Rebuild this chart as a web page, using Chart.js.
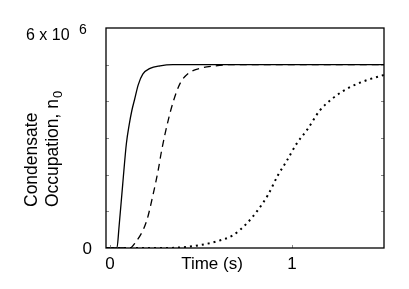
<!DOCTYPE html>
<html>
<head>
<meta charset="utf-8">
<script src="https://cdn.jsdelivr.net/npm/chart.js@4/dist/chart.umd.min.js"></script>
<style>
html,body{margin:0;padding:0;background:#fff;}
#wrap{width:409px;height:289px;position:relative;}
</style>
</head>
<body>
<div id="wrap"><canvas id="c" width="409" height="289"></canvas></div>
<script>
// Data
const solidTime  = [-0.022, 0.038, 0.05, 0.07, 0.09, 0.105, 0.12, 0.135, 0.155, 0.18, 0.22, 0.275, 0.346, 1.505];
const solidValue = [0, 0, 0.6e6, 1.75e6, 2.85e6, 3.35e6, 3.75e6, 4.05e6, 4.45e6, 4.74e6, 4.90e6, 4.97e6, 5.0e6, 5.0e6];

const dashTime  = [-0.022, 0.11, 0.137, 0.2, 0.238, 0.265, 0.284, 0.32, 0.348, 0.385, 0.43, 0.495, 0.567, 0.66, 1.505];
const dashValue = [0, 0, 0.13e6, 0.72e6, 1.49e6, 2.13e6, 2.67e6, 3.49e6, 4.0e6, 4.49e6, 4.76e6, 4.9e6, 4.96e6, 5.0e6, 5.0e6];

const dotTime  = [-0.022, 0.3, 0.4, 0.495, 0.593, 0.676, 0.753, 0.813, 0.868, 0.923, 0.97, 1.027, 1.082, 1.154, 1.225, 1.319, 1.412, 1.505];
const dotValue = [0, 0, 0.02e6, 0.08e6, 0.19e6, 0.35e6, 0.68e6, 1.04e6, 1.45e6, 1.99e6, 2.37e6, 2.86e6, 3.22e6, 3.76e6, 4.09e6, 4.39e6, 4.58e6, 4.72e6];

const xTickValues = [0, 1];
const xTickLabels = ['0', '1'];
const yMinorTicks = [1e6, 2e6, 3e6, 4e6, 5e6];
const xLabel = 'Time (s)';
const yLabelLine1 = 'Condensate';
const yLabelLine2 = 'Occupation, n';
const yLabelSub = '0';

const pts = (t, v) => t.map((x, i) => ({x: x, y: v[i]}));
const FONT = '"Liberation Sans", Arial, Helvetica, sans-serif';

const decor = {
  id: 'decor',
  afterDraw(chart) {
    const ctx = chart.ctx, a = chart.chartArea;
    const xs = chart.scales.x, ys = chart.scales.y;
    ctx.save();
    // inner ticks
    ctx.strokeStyle = '#888';
    ctx.lineWidth = 1;
    yMinorTicks.forEach(v => {
      const py = Math.round(ys.getPixelForValue(v)) + 0.5;
      ctx.beginPath(); ctx.moveTo(a.left, py); ctx.lineTo(a.left + 3, py); ctx.stroke();
      ctx.beginPath(); ctx.moveTo(a.right, py); ctx.lineTo(a.right - 3, py); ctx.stroke();
    });
    xTickValues.forEach(v => {
      const px = Math.round(xs.getPixelForValue(v)) + 0.5;
      ctx.beginPath(); ctx.moveTo(px, a.bottom); ctx.lineTo(px, a.bottom - 3); ctx.stroke();
    });
    // frame
    ctx.strokeStyle = '#000';
    ctx.lineWidth = 1.3;
    ctx.strokeRect(a.left, a.top, a.right - a.left, a.bottom - a.top);
    // x tick labels
    ctx.fillStyle = '#000';
    ctx.font = '17px ' + FONT;
    ctx.textAlign = 'center';
    ctx.textBaseline = 'alphabetic';
    xTickValues.forEach((v, i) => {
      ctx.fillText(xTickLabels[i], xs.getPixelForValue(v), 269);
    });
    // x title
    ctx.fillText(xLabel, 212, 269);
    // y tick labels
    ctx.textAlign = 'right';
    ctx.fillText('0', 92, ys.getPixelForValue(0) + 6);
    ctx.textAlign = 'left';
    ctx.font = '16px ' + FONT;
    const topY = ys.getPixelForValue(6e6) + 12;
    ctx.fillText('6 x 10', 26, topY);
    ctx.font = '14px ' + FONT;
    ctx.fillText('6', 79, topY - 6);
    // y title, rotated
    ctx.save();
    ctx.translate(37, 207);
    ctx.rotate(-Math.PI / 2);
    ctx.font = '17.5px ' + FONT;
    ctx.textAlign = 'left';
    ctx.fillText(yLabelLine1, 0, 0);
    ctx.fillText(yLabelLine2, 0, 21);
    const w = ctx.measureText(yLabelLine2).width;
    ctx.font = '13px ' + FONT;
    ctx.fillText(yLabelSub, w + 1, 25);
    ctx.restore();
    ctx.restore();
  }
};

new Chart(document.getElementById('c'), {
  type: 'line',
  data: {
    datasets: [
      {data: pts(solidTime, solidValue), borderColor: '#000', borderWidth: 1.3, pointRadius: 0, fill: false, cubicInterpolationMode: 'monotone'},
      {data: pts(dashTime, dashValue), borderColor: '#000', borderWidth: 1.3, borderDash: [7, 5], pointRadius: 0, fill: false, cubicInterpolationMode: 'monotone'},
      {data: pts(dotTime, dotValue), borderColor: '#000', borderWidth: 2, borderDash: [2, 4], pointRadius: 0, fill: false, cubicInterpolationMode: 'monotone'}
    ]
  },
  options: {
    responsive: false,
    animation: false,
    layout: {padding: {left: 106, top: 28, right: 25, bottom: 41}},
    plugins: {legend: {display: false}, tooltip: {enabled: false}},
    scales: {
      x: {type: 'linear', min: -0.022, max: 1.505, display: false},
      y: {type: 'linear', min: 0, max: 6e6, display: false}
    }
  },
  plugins: [decor]
});
</script>
</body>
</html>
